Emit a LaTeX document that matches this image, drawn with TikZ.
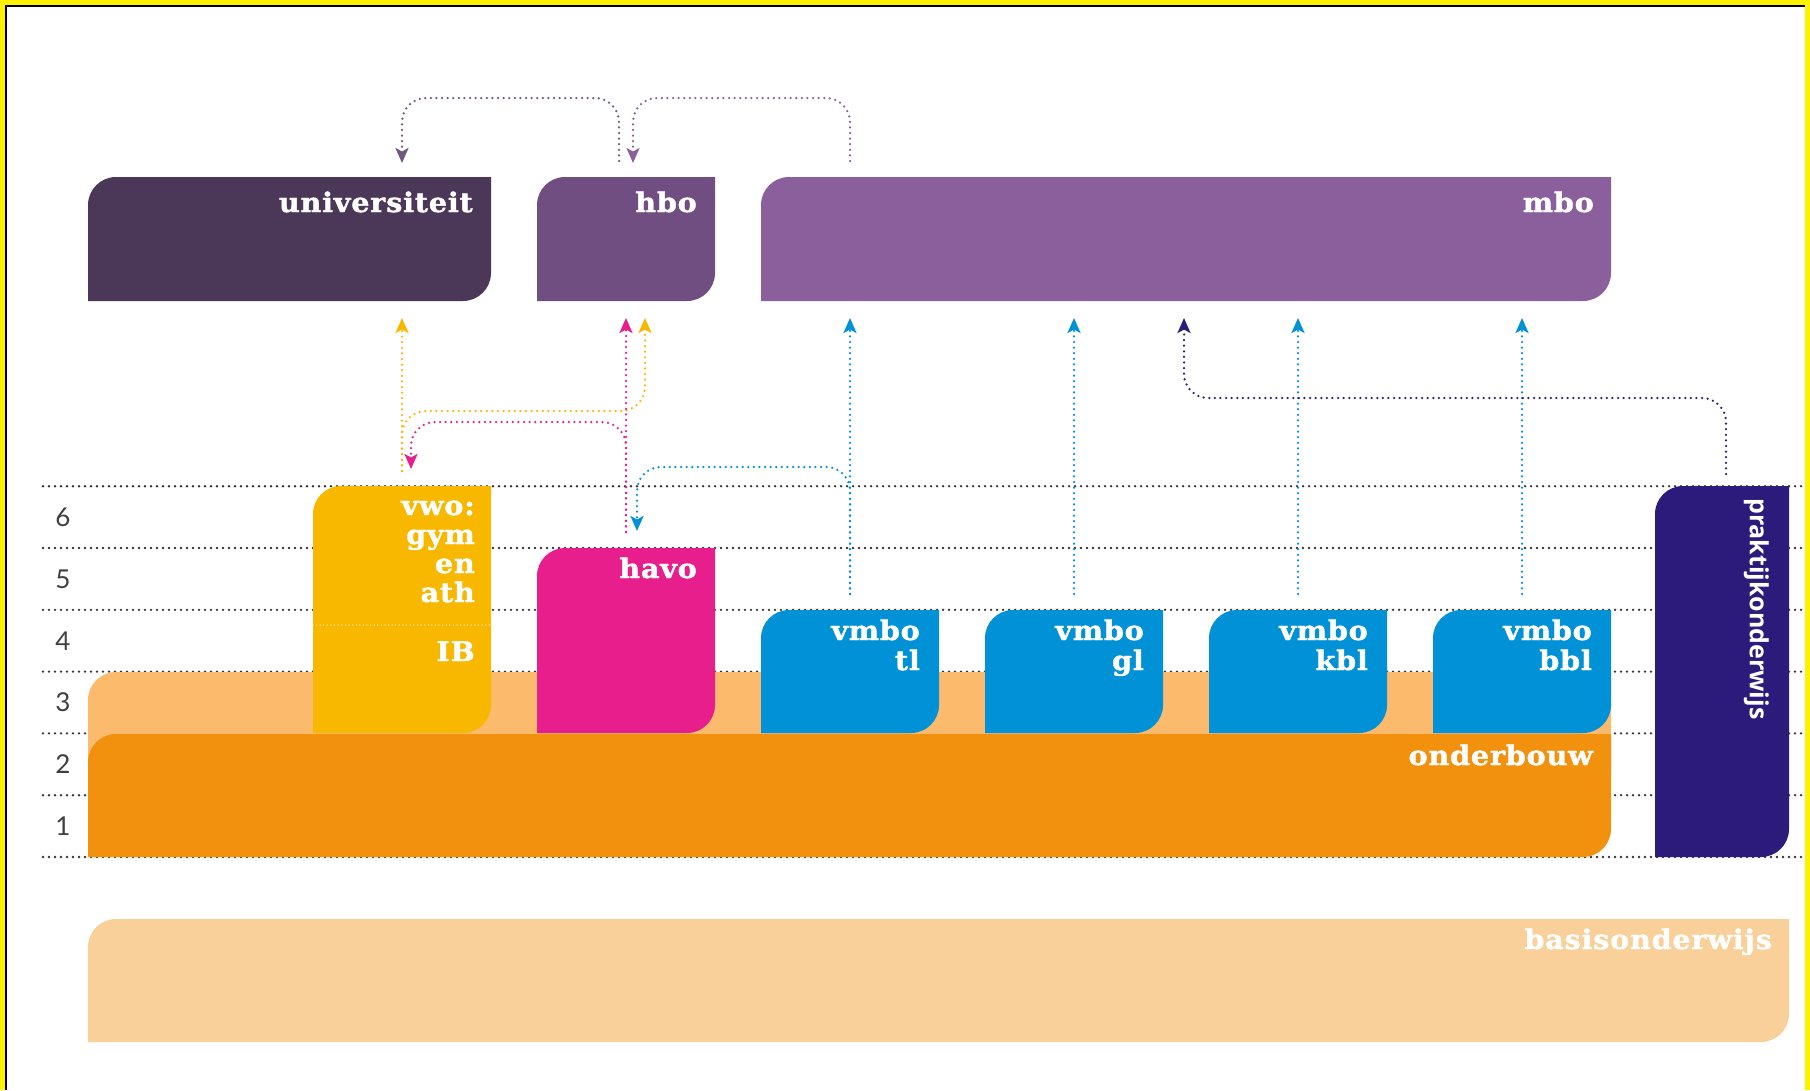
\documentclass[tikz,border=0pt]{standalone}
\usepackage{fontspec}
\usetikzlibrary{arrows.meta,calc}
\newfontfamily\slabfont{DejaVu Serif}[FakeStretch=1.06,LetterSpace=3,FakeBold=1.5]
\newfontfamily\sansfont{Open Sans}
\newfontfamily\numfont{Lato}
\definecolor{framecol}{HTML}{FFF200}
\definecolor{gridcol}{HTML}{333333}
\definecolor{numcol}{HTML}{3F3F3F}
\definecolor{univcol}{HTML}{4B3859}
\definecolor{hbocol}{HTML}{714E82}
\definecolor{hboarrow}{HTML}{6C5880}
\definecolor{mbocol}{HTML}{8B5F9C}
\definecolor{vwocol}{HTML}{F9B800}
\definecolor{havocol}{HTML}{E71E8B}
\definecolor{vmbocol}{HTML}{0091D7}
\definecolor{ondcol}{HTML}{F2910D}
\definecolor{barcol}{HTML}{FBBA6C}
\definecolor{prakcol}{HTML}{2D1B7B}
\definecolor{basiscol}{HTML}{F9D099}
\newcommand\leafr{28}
\newcommand\leafbox[6]{%
  \node[leaf, fill=#2, minimum width=#5pt, minimum height=#6pt] (#1) at (#3,#4) {};
  \fill[#2] (#1.north east) rectangle ++(-\leafr,\leafr) (#1.south west) rectangle ++(\leafr,-\leafr);}

\begin{document}
\begin{tikzpicture}[x=1pt, y=-1pt,
  leaf/.style={anchor=north west, inner sep=0pt, outer sep=0pt, rounded corners=28pt},
  lbl/.style={anchor=base east, inner sep=0pt, text=white, font=\slabfont\bfseries\fontsize{27}{30}\selectfont},
  rownum/.style={inner sep=0pt, text=numcol, font=\numfont\fontsize{26}{30}\selectfont},
  dotline/.style={line width=2.6pt, line cap=round, dash pattern=on 0pt off 6pt},
  flow/.style={line width=2.5pt, line cap=round, dash pattern=on 0pt off 5.6pt, rounded corners=24pt, -{Stealth[length=15pt,width=13pt,inset=3.5pt]}}]
\useasboundingbox (0,0) rectangle (1810,1090);
\fill[framecol] (0,0) rectangle (1810,5) (0,0) rectangle (5,1090) (1805,0) rectangle (1810,1090);
\draw[line width=1.5pt] (6.2,1090) -- (6.2,5.8) -- (1805,5.8);

\foreach \k in {0,...,6}
  \draw[dotline, gridcol] (43,857-61.8*\k) -- (1805,857-61.8*\k);
\foreach \n in {1,...,6}
  \node[rownum] (row\n) at (63,888-61.8*\n) {\n};

\leafbox{basis}{basiscol}{88}{919}{1701}{123}
\leafbox{bar}{barcol}{88}{672}{1523}{128}
\leafbox{onder}{ondcol}{88}{734}{1523}{123}
\leafbox{univ}{univcol}{88}{177}{403}{124}
\leafbox{hbo}{hbocol}{537}{177}{178}{124}
\leafbox{mbo}{mbocol}{761}{177}{850}{124}
\leafbox{vwo}{vwocol}{313}{486}{178}{247}
\leafbox{havo}{havocol}{537}{548}{178}{185}
\foreach \v [count=\i from 0] in {tl,gl,kbl,bbl}
  {\leafbox{\v}{vmbocol}{761+224*\i}{610}{178}{123}}
\leafbox{prak}{prakcol}{1655}{486}{134}{371}

\node[lbl] (univ-t) at ($(univ.north east)+(-18,35)$) {universiteit};
\node[lbl] (hbo-t) at ($(hbo.north east)+(-18,35)$) {hbo};
\node[lbl] (mbo-t) at ($(mbo.north east)+(-17,35)$) {mbo};
\foreach \w [count=\i from 0] in {vwo:,gym,en,ath}
  \node[lbl] (vwo-t\i) at ($(vwo.north east)+(-16,29+29*\i)$) {\w};
\draw[white, line width=1.2pt, line cap=round, dash pattern=on 0pt off 3.6pt] ($(vwo.north west)+(0,139)$) -- ($(vwo.north east)+(0,139)$);
\node[lbl] (ib-t) at ($(vwo.north east)+(-16,175)$) {IB};
\node[lbl] (havo-t) at ($(havo.north east)+(-18,30)$) {havo};
\foreach \v in {tl,gl,kbl,bbl} {
  \node[lbl] (\v-a) at ($(\v.north east)+(-19,30)$) {vmbo};
  \node[lbl] (\v-b) at ($(\v.north east)+(-19,60)$) {\v};}
\node[lbl] (onder-t) at ($(onder.north east)+(-18,31)$) {onderbouw};
\node[lbl] (basis-t) at ($(basis.north east)+(-17,30)$) {basisonderwijs};
\node[lbl, anchor=north west, rotate=-90, font=\sansfont\bfseries\fontsize{25}{30}\selectfont] (prak-t) at ($(prak.north east)+(-20,12)$) {praktijkonderwijs};

\coordinate (lane-top) at (0,98);
\coordinate (lane-prak) at (0,398);
\coordinate (lane-yel) at (0,411);
\coordinate (lane-mag) at (0,422);
\coordinate (lane-blue) at (0,467);
\coordinate (mbo-out) at ($(mbo.north -| tl.north)+(0,-16)$);
\coordinate (hbo-in) at ($(hbo.north)+(7,-14)$);
\coordinate (hbo-out) at ($(hbo.north)+(-7,-16)$);
\coordinate (univ-in) at ($(univ.north -| vwo.north)+(0,-14)$);
\coordinate (vwo-out) at ($(vwo.north)+(0,-15)$);
\coordinate (vwo-in) at ($(vwo.north)+(9,-17)$);
\coordinate (univ-up) at ($(univ.south -| vwo.north)+(0,17)$);
\coordinate (hbo-up) at ($(hbo.south)+(0,17)$);
\coordinate (hbo-up2) at ($(hbo.south)+(19,17)$);
\coordinate (havo-out) at ($(havo.north)+(0,-16)$);
\coordinate (havo-in) at ($(havo.north)+(11,-17)$);
\coordinate (prak-out) at ($(prak.north)+(4,-12)$);
\coordinate (mbo-up) at ($(mbo.south -| gl.north)+(110,17)$);

\draw[flow, mbocol] (mbo-out) -- (mbo-out |- lane-top) -- (hbo-in |- lane-top) -- (hbo-in);
\draw[flow, hboarrow] (hbo-out) -- (hbo-out |- lane-top) -- (univ-in |- lane-top) -- (univ-in);
\draw[flow, vwocol] (vwo-out) -- (univ-up);
\draw[flow, vwocol] (vwo-out) -- (vwo-out |- lane-yel) -- (hbo-up2 |- lane-yel) -- (hbo-up2);
\draw[flow, havocol] (havo-out) -- (hbo-up);
\draw[flow, havocol] (havo-out) -- (havo-out |- lane-mag) -- (vwo-in |- lane-mag) -- (vwo-in);
\foreach \v in {tl,gl,kbl,bbl}
  \draw[flow, vmbocol] ($(\v.north)+(0,-16)$) coordinate (\v-out) -- ($(\v.north |- mbo.south)+(0,17)$);
\draw[flow, vmbocol] (tl-out) -- (tl-out |- lane-blue) -- (havo-in |- lane-blue) -- (havo-in);
\draw[flow, prakcol] (prak-out) -- (prak-out |- lane-prak) -- (mbo-up |- lane-prak) -- (mbo-up);
\end{tikzpicture}
\end{document}
